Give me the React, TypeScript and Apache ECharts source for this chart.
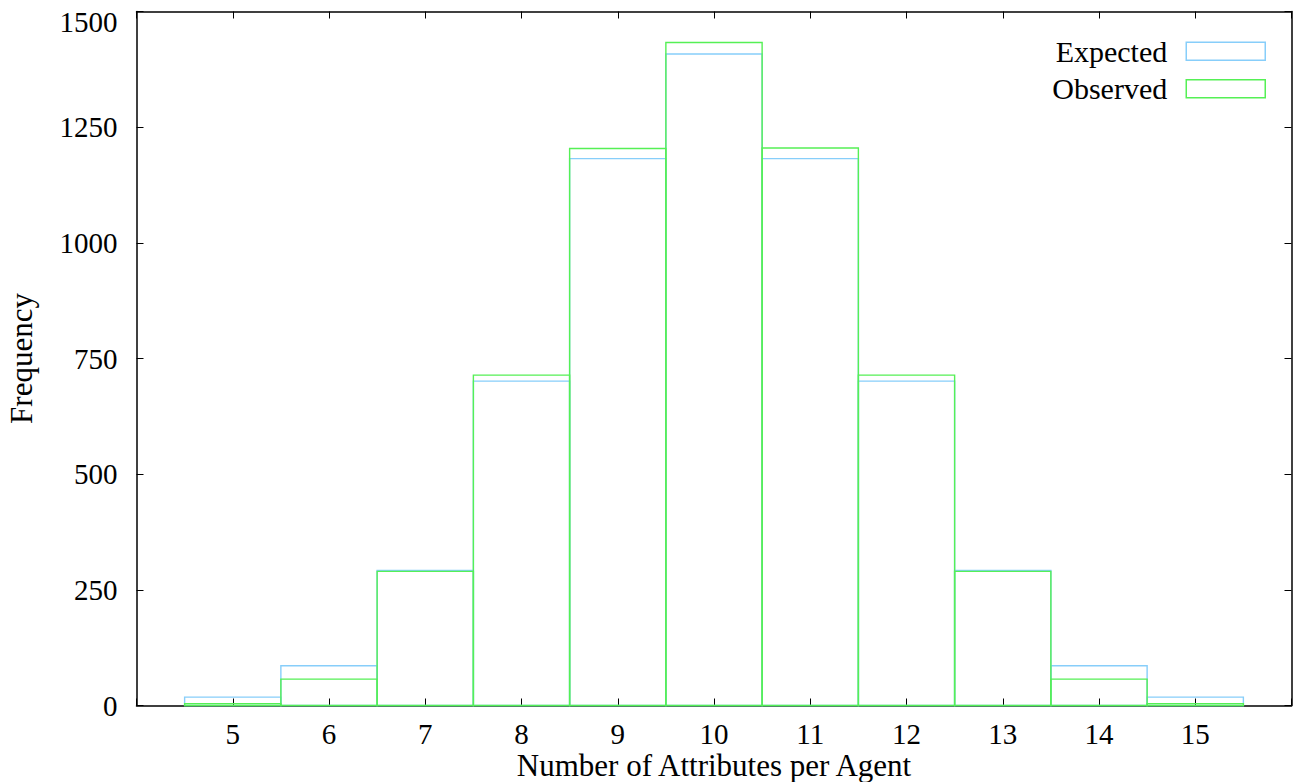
import React, { useEffect, useRef } from "react";
import * as echarts from "echarts";

const categories = [5, 6, 7, 8, 9, 10, 11, 12, 13, 14, 15];
const expected = [18, 86, 292, 701, 1182, 1408, 1182, 701, 292, 86, 18];
const observed = [4, 57, 290, 714, 1204, 1433, 1205, 714, 290, 57, 4];
const yTicks = [0, 250, 500, 750, 1000, 1250, 1500];

const FONT = "'Liberation Serif', 'DejaVu Serif', serif";
const BLUE = "#87cefa";
const GREEN = "#55f055";

function stepSeries(name: string, values: number[], color: string, z: number) {
  return {
    name,
    type: "custom",
    z,
    xAxisIndex: 0,
    yAxisIndex: 0,
    encode: { x: 0, y: 1 },
    data: categories.map((c, i) => [c, values[i]]),
    itemStyle: { color },
    renderItem: (params: any, api: any) => {
      const x = api.value(0);
      const v = api.value(1);
      const p0 = api.coord([x - 0.5, v]);
      const p1 = api.coord([x + 0.5, 0]);
      return {
        type: "rect",
        shape: { x: p0[0], y: p0[1], width: p1[0] - p0[0], height: p1[1] - p0[1] },
        style: { fill: "none", stroke: color, lineWidth: 1.4 },
      };
    },
  };
}

export default function App() {
  const ref = useRef<HTMLDivElement>(null);
  useEffect(() => {
    if (!ref.current) return;
    const chart = echarts.init(ref.current, null, { renderer: "svg" });
    const axisLine = { show: true, onZero: false, lineStyle: { color: "#000", width: 1.5 } };
    const tick = { show: true, inside: true, length: 7, lineStyle: { color: "#000", width: 1 } };
    const yMax = yTicks[yTicks.length - 1];
    chart.setOption({
      animation: false,
      backgroundColor: "#fff",
      grid: {
        left: 136.5,
        top: 11.5,
        width: 1155,
        height: 694,
        containLabel: false,
        outerBoundsMode: "none",
      },
      legend: {
        show: true,
        orient: "vertical",
        right: 22,
        top: 31.2,
        align: "right",
        itemWidth: 79,
        itemHeight: 18,
        itemGap: 7.6,
        selectedMode: false,
        textStyle: { fontFamily: FONT, fontSize: 30, color: "#000", padding: [0, 14, 0, 0] },
        data: [
          { name: "Expected", icon: "rect", itemStyle: { color: "rgba(0,0,0,0)", borderColor: BLUE, borderWidth: 1.5 } },
          { name: "Observed", icon: "rect", itemStyle: { color: "rgba(0,0,0,0)", borderColor: GREEN, borderWidth: 1.5 } },
        ],
      },
      xAxis: [
        {
          type: "value",
          min: 4,
          max: 16,
          interval: 1,
          position: "bottom",
          axisLine,
          axisTick: tick,
          splitLine: { show: false },
          axisLabel: {
            fontFamily: FONT,
            fontSize: 29,
            lineHeight: 24,
            color: "#000",
            margin: 16,
            formatter: (v: number) => (categories.indexOf(v) >= 0 ? String(v) : ""),
          },
          name: "Number of Attributes per Agent",
          nameLocation: "middle",
          nameGap: 46,
          nameMoveOverlap: false,
          nameTextStyle: { fontFamily: FONT, fontSize: 31, lineHeight: 28, color: "#000", verticalAlign: "top" },
        },
        {
          type: "value",
          min: 4,
          max: 16,
          interval: 1,
          position: "top",
          axisLine,
          axisTick: tick,
          splitLine: { show: false },
          axisLabel: { show: false },
        },
      ],
      yAxis: [
        {
          type: "value",
          min: yTicks[0],
          max: yMax,
          interval: 250,
          position: "left",
          axisLine,
          axisTick: tick,
          splitLine: { show: false },
          axisLabel: {
            fontFamily: FONT,
            fontSize: 29,
            color: "#000",
            margin: 19,
            formatter: (v: number) => (v === yMax ? "{top|" + v + "}" : String(v)),
            rich: {
              top: { fontFamily: FONT, fontSize: 29, color: "#000", padding: [21, 0, 0, 0] },
            },
          },
          name: "Frequency",
          nameLocation: "middle",
          nameRotate: 90,
          nameGap: 100,
          nameMoveOverlap: false,
          nameTextStyle: { fontFamily: FONT, fontSize: 31, color: "#000" },
        },
        {
          type: "value",
          min: yTicks[0],
          max: yMax,
          interval: 250,
          position: "right",
          axisLine,
          axisTick: tick,
          splitLine: { show: false },
          axisLabel: { show: false },
        },
      ],
      series: [stepSeries("Expected", expected, BLUE, 3), stepSeries("Observed", observed, GREEN, 4)],
    });
    return () => chart.dispose();
  }, []);
  return (
    <div
      ref={ref}
      style={{ position: "fixed", left: 0, top: 0, width: 1293, height: 782, background: "#fff" }}
    />
  );
}
